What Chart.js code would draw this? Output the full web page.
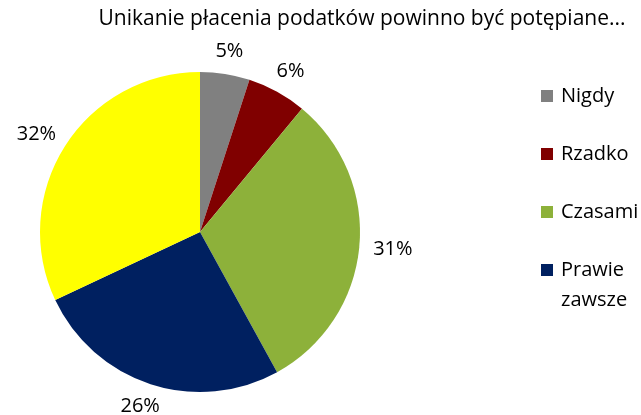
<!DOCTYPE html>
<html>
<head>
<meta charset="utf-8">
<script src="https://cdn.jsdelivr.net/npm/chart.js@4"></script>
<style>
  html, body { margin: 0; padding: 0; background: #fff; }
  #wrap { width: 641px; height: 415px; }
</style>
</head>
<body>
<div id="wrap"><canvas id="pie" width="641" height="415"></canvas></div>
<script>
const titleText = "Unikanie płacenia podatków powinno być potępiane...";
const categories = ["Nigdy", "Rzadko", "Czasami", "Prawie zawsze", "Zawsze"];
const legendLines = [["Nigdy"], ["Rzadko"], ["Czasami"], ["Prawie", "zawsze"]];
const values = [5, 6, 31, 26, 32];
const colors = ["#808080", "#800000", "#8db13a", "#002060", "#ffff00"];

const FONT = "'Open Sans', 'Noto Sans', sans-serif";

const extras = {
  id: "extras",
  afterDraw(chart) {
    const ctx = chart.ctx;
    ctx.save();
    ctx.fillStyle = "#000";

    // title
    ctx.font = "21px " + FONT;
    ctx.textAlign = "center";
    ctx.textBaseline = "middle";
    ctx.fillText(titleText, 362, 19);

    // percentage labels outside the slices
    const meta = chart.getDatasetMeta(0);
    ctx.font = "20px " + FONT;
    meta.data.forEach((arc, i) => {
      const mid = (arc.startAngle + arc.endAngle) / 2;
      const c = Math.cos(mid), s = Math.sin(mid);
      const txt = values[i] + "%";
      const w = ctx.measureText(txt).width;
      const h = 18;
      const r = arc.outerRadius + 14;
      const x = arc.x + c * r + c * w / 2;
      const y = arc.y + s * r + s * h / 2;
      ctx.fillText(txt, x, y);
    });

    // legend (only first four entries)
    const ys = [96, 154, 212, 270];
    ctx.font = "20px " + FONT;
    ctx.textAlign = "left";
    legendLines.forEach((lines, i) => {
      ctx.fillStyle = colors[i];
      ctx.fillRect(541, ys[i] - 6, 12, 12);
      ctx.fillStyle = "#000";
      lines.forEach((ln, j) => {
        ctx.fillText(ln, 561, ys[i] + j * 30);
      });
    });
    ctx.restore();
  }
};

new Chart(document.getElementById("pie"), {
  type: "pie",
  data: {
    labels: categories,
    datasets: [{
      data: values,
      backgroundColor: colors,
      borderWidth: 0
    }]
  },
  options: {
    responsive: false,
    animation: false,
    layout: { padding: { left: 40, right: 281, top: 72, bottom: 23 } },
    plugins: {
      legend: { display: false },
      title: { display: false },
      tooltip: { enabled: false }
    }
  },
  plugins: [extras]
});
</script>
</body>
</html>
